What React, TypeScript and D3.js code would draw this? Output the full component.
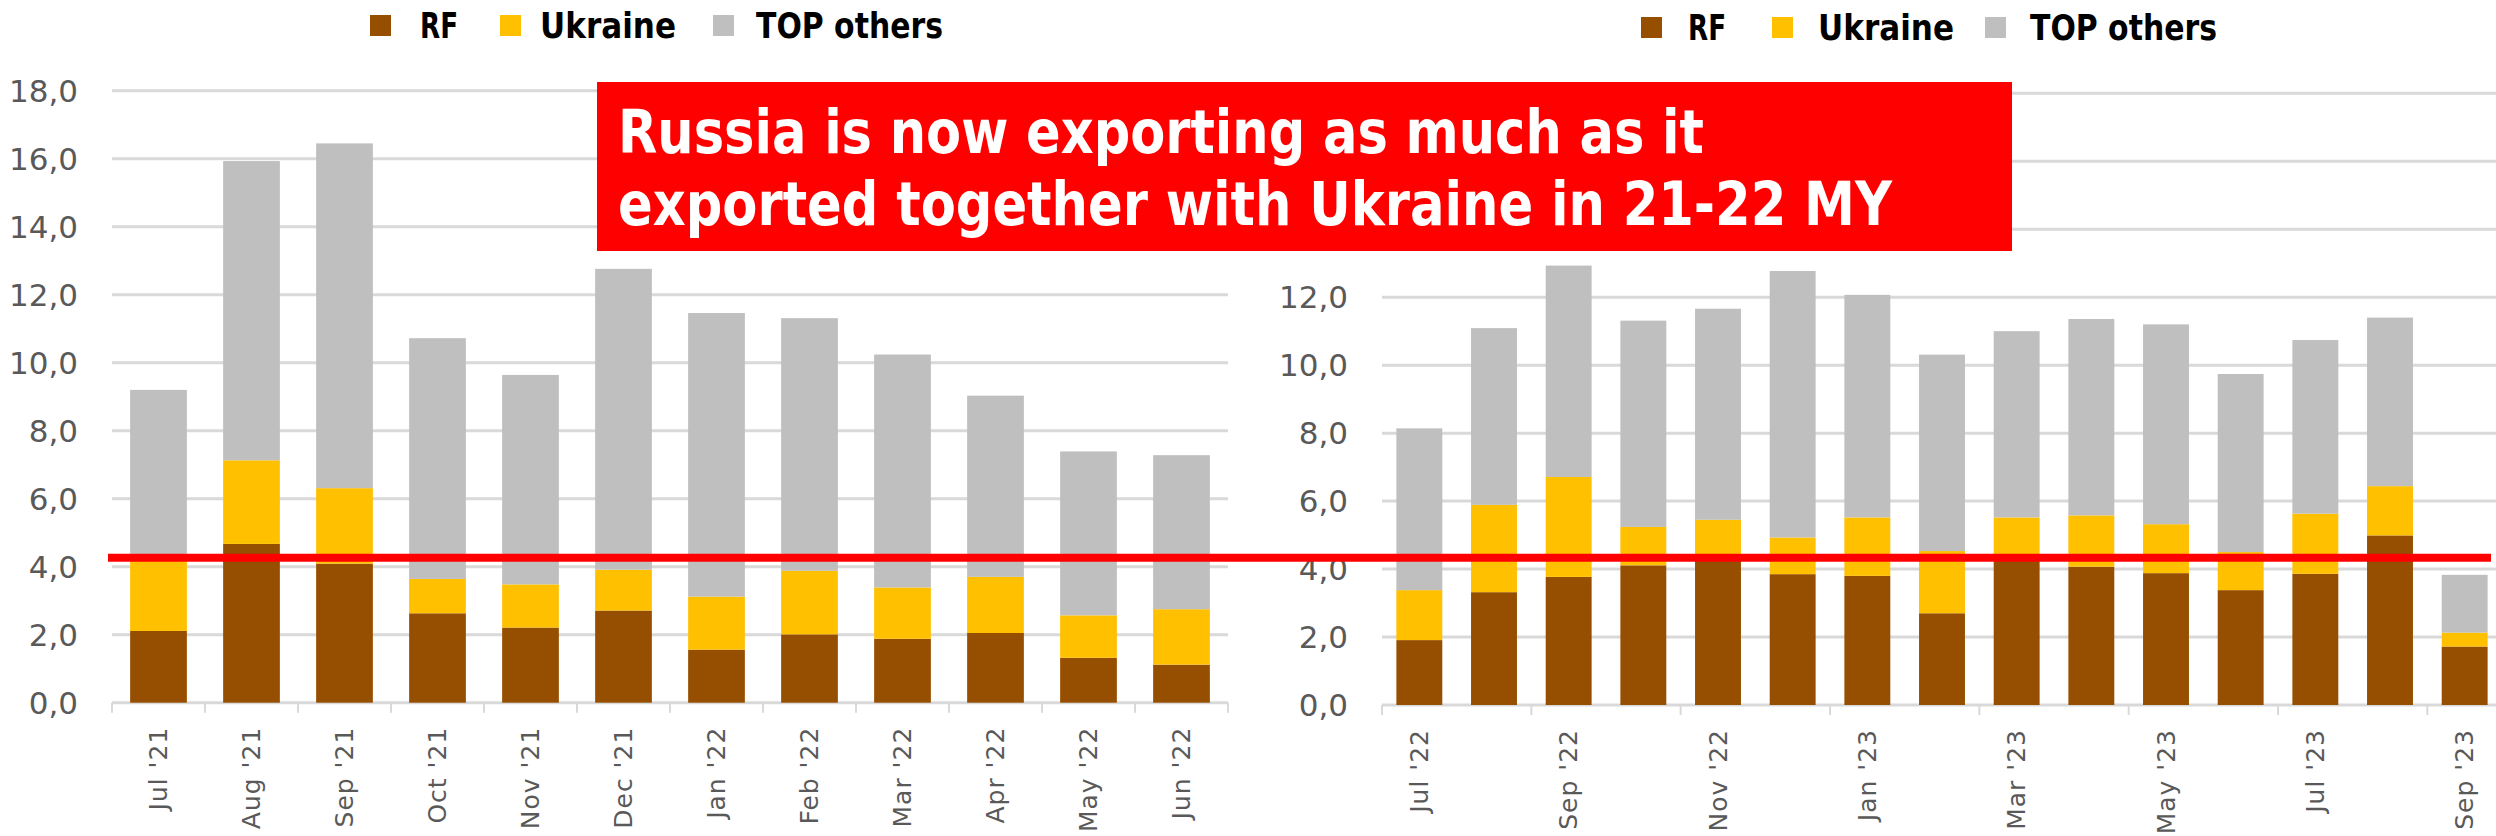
import React from "react";
import * as d3 from "d3";

const leftMonths = ["Jul '21","Aug '21","Sep '21","Oct '21","Nov '21","Dec '21","Jan '22","Feb '22","Mar '22","Apr '22","May '22","Jun '22"];
const leftRF = [2.11,4.67,4.09,2.63,2.21,2.71,1.56,2.01,1.88,2.05,1.32,1.12];
const leftUA = [2.19,2.46,2.22,1.01,1.27,1.20,1.56,1.87,1.51,1.65,1.25,1.63];
const leftOthers = [4.90,8.80,10.14,7.08,6.16,8.85,8.34,7.43,6.85,5.33,4.82,4.53];

const rightMonths = ["Jul '22","Aug '22","Sep '22","Oct '22","Nov '22","Dec '22","Jan '23","Feb '23","Mar '23","Apr '23","May '23","Jun '23","Jul '23","Aug '23","Sep '23"];
const rightRF = [1.91,3.32,3.77,4.11,4.30,3.85,3.80,2.70,4.35,4.07,3.88,3.38,3.86,4.99,1.72];
const rightUA = [1.47,2.57,2.94,1.13,1.15,1.08,1.72,1.83,1.17,1.51,1.44,1.12,1.77,1.45,0.41];
const rightOthers = [4.76,5.20,6.22,6.07,6.21,7.84,6.55,5.78,5.48,5.78,5.88,5.24,5.11,4.96,1.70];

const yTicks = [0,2,4,6,8,10,12,14,16,18];
const rightHiddenTicks = [14,16,18];
const seriesKeys = ["RF","Ukraine","TOP others"];
const seriesColors = ["#964F00","#FFC000","#BFBFBF"];
const legendWidths = [38,136,187];
const benchmark = 4.26;
const calloutLines = ["Russia is now exporting as much as it","exported together with Ukraine in 21-22 MY"];

const fmt = (v: number) => v.toFixed(1).replace(".", ",");
const FONT = "'DejaVu Sans', sans-serif";

type PanelProps = {
  months: string[]; rf: number[]; ua: number[]; oth: number[];
  x0: number; x1: number; yBottom: number; yTop: number; labelRight: number;
  bandPad: number; labelEvery: number; tickEvery: number; hidden: number[];
};

function Panel(p: PanelProps) {
  const x = d3.scaleBand<string>().domain(p.months).range([p.x0, p.x1]).paddingInner(p.bandPad).paddingOuter(p.bandPad / 2);
  const y = d3.scaleLinear().domain([0, 18]).range([p.yBottom, p.yTop]);
  const rows = p.months.map((m, i) => ({ m, RF: p.rf[i], Ukraine: p.ua[i], "TOP others": p.oth[i] }));
  const stack = d3.stack<any>().keys(seriesKeys)(rows);
  const step = x.step();
  const boundaries = d3.range(0, p.months.length + 1, p.tickEvery).map((i) => p.x0 + i * step);
  return (
    <g>
      {yTicks.map((t) => (
        <g key={t}>
          <line x1={p.x0} x2={p.x1} y1={y(t)} y2={y(t)} stroke="#D9D9D9" strokeWidth={3} />
          {p.hidden.includes(t) ? null : (
            <text x={p.labelRight} y={y(t)} dy="0.36em" textAnchor="end" fontFamily={FONT} fontSize={31} fill="#595959">{fmt(t)}</text>
          )}
        </g>
      ))}
      {stack.map((s, si) => (
        <g key={si} fill={seriesColors[si]}>
          {s.map((d, i) => (
            <rect key={i} x={x(p.months[i])} width={x.bandwidth()} y={y(d[1])} height={y(d[0]) - y(d[1])} />
          ))}
        </g>
      ))}
      {boundaries.map((bx, i) => (
        <line key={i} x1={bx} x2={bx} y1={p.yBottom} y2={p.yBottom + 10} stroke="#D9D9D9" strokeWidth={2} />
      ))}
      {p.months.map((m, i) =>
        i % p.labelEvery === 0 ? (
          <text key={m} transform={`translate(${(x(m) as number) + x.bandwidth() / 2},${p.yBottom + 24}) rotate(-90)`} dy="0.35em" textAnchor="end" fontFamily={FONT} fontSize={25} letterSpacing={1} fill="#595959">{m}</text>
        ) : null
      )}
    </g>
  );
}

function Legend({ sq, tx, baseline }: { sq: number[]; tx: number[]; baseline: number }) {
  return (
    <g>
      {seriesKeys.map((k, i) => (
        <g key={k}>
          <rect x={sq[i]} y={baseline - 23} width={21} height={21} fill={seriesColors[i]} />
          <text x={tx[i]} y={baseline} fontFamily={FONT} fontWeight="bold" fontSize={35} fill="#000" textLength={legendWidths[i]} lengthAdjust="spacingAndGlyphs">{k}</text>
        </g>
      ))}
    </g>
  );
}

export default function App() {
  const yLeft = d3.scaleLinear().domain([0, 18]).range([702.7, 90.7]);
  return (
    <svg width={2496} height={836} style={{ position: "absolute", left: 0, top: 0, background: "#fff" }}>
      <rect width={2496} height={836} fill="#fff" />
      <Panel months={leftMonths} rf={leftRF} ua={leftUA} oth={leftOthers} x0={112} x1={1228} yBottom={702.7} yTop={90.7} labelRight={78} bandPad={0.39} labelEvery={1} tickEvery={1} hidden={[]} />
      <Panel months={rightMonths} rf={rightRF} ua={rightUA} oth={rightOthers} x0={1382} x1={2502} yBottom={705} yTop={93.3} labelRight={1348} bandPad={0.385} labelEvery={2} tickEvery={2} hidden={rightHiddenTicks} />
      <line x1={108} x2={2491} y1={yLeft(benchmark)} y2={yLeft(benchmark)} stroke="#FF0000" strokeWidth={8} />
      <rect x={597} y={82} width={1415} height={169} fill="#FF0000" />
      <text x={618} y={153} fontFamily={FONT} fontWeight="bold" fontSize={61} fill="#fff" textLength={1086} lengthAdjust="spacingAndGlyphs">{calloutLines[0]}</text>
      <text x={618} y={225} fontFamily={FONT} fontWeight="bold" fontSize={61} fill="#fff" textLength={1274} lengthAdjust="spacingAndGlyphs">{calloutLines[1]}</text>
      <Legend sq={[370, 500, 713]} tx={[420, 540, 756]} baseline={38} />
      <Legend sq={[1641, 1772, 1985]} tx={[1688, 1818, 2030]} baseline={40} />
    </svg>
  );
}
